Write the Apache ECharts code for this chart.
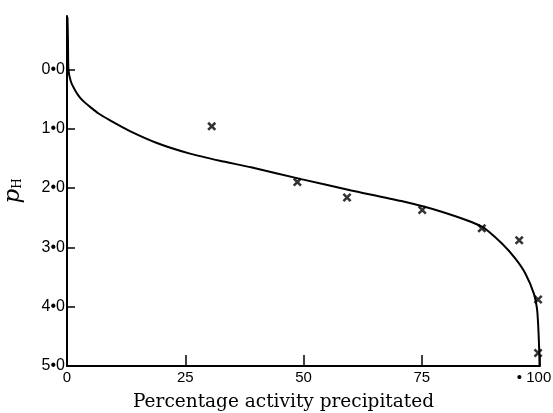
<!DOCTYPE html>
<html>
<head>
<meta charset="utf-8">
<script src="https://cdn.jsdelivr.net/npm/echarts@6/dist/echarts.min.js"></script>
<style>
  html, body { margin: 0; padding: 0; background: #fff; }
  #chart { width: 553px; height: 413px; }
</style>
</head>
<body>
<div id="chart"></div>
<script>
// smooth curve: [percentage precipitated, pH]
var curvePoints = [
  [0.1, -0.88], [0.2, -0.5], [0.3, 0.0], [0.8, 0.2], [1.7, 0.35],
  [2.7, 0.47], [3.8, 0.56], [5.0, 0.64], [6.6, 0.74], [9.1, 0.86],
  [13.3, 1.04], [19.0, 1.24], [26.0, 1.42], [32.3, 1.54], [38.9, 1.65],
  [49.5, 1.85], [60.1, 2.04], [70.7, 2.22], [79.2, 2.40], [87.7, 2.65],
  [91.9, 2.93], [94.8, 3.19], [96.9, 3.44], [98.7, 3.78], [99.4, 4.06],
  [99.7, 4.45], [99.85, 4.79], [99.9, 5.0]
];

// measured points (crosses)
var measured = [
  [30.6, 0.96], [48.7, 1.90], [59.2, 2.16], [75.1, 2.37],
  [87.7, 2.68], [95.6, 2.88], [99.6, 3.88], [99.6, 4.78]
];

var xTicks = [0, 25, 50, 75, 100];
var yTicks = [0, 1, 2, 3, 4, 5];

var dom = document.getElementById('chart');
var myChart = echarts.init(dom, null, { renderer: 'canvas' });

var crossPath = 'path://M0,2L2,0L10,8L8,10ZM8,0L10,2L2,10L0,8Z';

var option = {
  backgroundColor: '#fff',
  animation: false,
  grid: { left: 67, right: 13, top: 16, bottom: 47, containLabel: false, outerBoundsMode: 'none' },
  xAxis: {
    type: 'value',
    min: 0,
    max: 100,
    interval: 25,
    splitLine: { show: false },
    axisLine: { onZero: false, lineStyle: { color: '#000', width: 2 } },
    axisTick: { inside: true, length: 11, customValues: xTicks, lineStyle: { color: '#000', width: 1.5 } },
    axisLabel: {
      color: '#000',
      fontFamily: 'Liberation Sans',
      fontSize: 15,
      margin: 4,
      customValues: xTicks,
      formatter: function (v) {
        return v === 100 ? '{d|\u2022 100}' : String(v);
      },
      rich: { d: { fontFamily: 'Liberation Sans', fontSize: 15, color: '#000', padding: [0, 12, 0, 0] } }
    },
    name: 'Percentage activity precipitated',
    nameLocation: 'middle',
    nameGap: 27,
    nameTextStyle: { color: '#000', fontFamily: 'DejaVu Serif', fontSize: 18.5, padding: [0, 40, 0, 0] }
  },
  yAxis: {
    type: 'value',
    inverse: true,
    min: -0.9,
    max: 5,
    splitLine: { show: false },
    axisLine: { onZero: false, lineStyle: { color: '#000', width: 2 } },
    axisTick: { inside: true, length: 8, customValues: yTicks, lineStyle: { color: '#000', width: 1.5 } },
    axisLabel: {
      color: '#000',
      fontFamily: 'Liberation Sans',
      fontSize: 16,
      margin: 2,
      customValues: yTicks,
      formatter: function (v) {
        return v.toFixed(1).replace('.', '\u2022');
      }
    },
    name: '{p|p}{h|H}',
    nameLocation: 'middle',
    nameRotate: 90,
    nameGap: 42,
    nameTextStyle: {
      rich: {
        p: { fontFamily: 'DejaVu Serif', fontStyle: 'italic', fontSize: 23, color: '#000' },
        h: { fontFamily: 'DejaVu Serif', fontSize: 12, color: '#000', padding: [8, 0, 0, 0] }
      }
    }
  },
  series: [
    {
      type: 'line',
      data: curvePoints,
      smooth: 0.2,
      showSymbol: false,
      clip: false,
      lineStyle: { color: '#000', width: 2 },
      markLine: {
        silent: true,
        symbol: 'none',
        label: { show: false },
        lineStyle: { color: '#000', width: 2, type: 'solid' },
        data: [[{ coord: [100, -1.03] }, { coord: [100, 5] }]]
      }
    },
    {
      type: 'scatter',
      data: measured,
      symbol: crossPath,
      symbolSize: 9,
      itemStyle: { color: '#000' }
    }
  ]
};

myChart.setOption(option);
</script>
</body>
</html>
